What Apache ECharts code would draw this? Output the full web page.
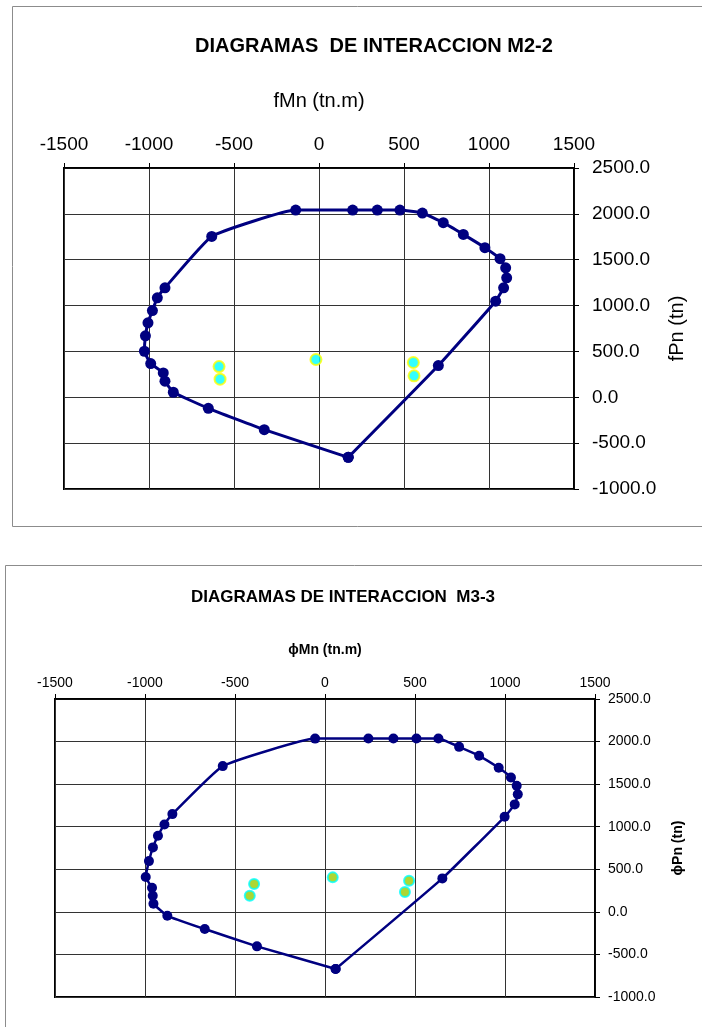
<!DOCTYPE html>
<html>
<head>
<meta charset="utf-8">
<script src="https://cdn.jsdelivr.net/npm/echarts@6/dist/echarts.min.js"></script>
<style>
  html, body { margin: 0; padding: 0; background: #fff; }
  #chart { width: 702px; height: 1027px; }
</style>
</head>
<body>
<div id="chart"></div>
<script>
// Interaction diagram M2-2: capacity curve (phiMn, phiPn) traced around the section
const m22Mn = [172, -322, -651, -857, -906, -916, -990, -1027, -1021, -1006, -980, -951, -906, -631, -137,
               198, 343, 476, 608, 731, 849, 976, 1065, 1098, 1104, 1086, 1039, 702, 172];
const m22Pn = [-655, -353, -120, 55, 175, 266, 368, 502, 670, 812, 946, 1085, 1194, 1754, 2041,
               2041, 2041, 2041, 2009, 1904, 1776, 1631, 1511, 1412, 1303, 1194, 1048, 346, -655];
// Demand points (Mu, Pu) for M2-2
const m22DemandMn = [-588, -582, -18, 555, 559];
const m22DemandPn = [335, 197, 412, 379, 234];

// Interaction diagram M3-3
const m33Mn = [59, -378, -668, -876, -953, -957, -961, -996, -978, -956, -928, -892, -848, -568, -55,
               241, 380, 508, 630, 745, 856, 965, 1033, 1065, 1071, 1054, 998, 652, 59];
const m33Pn = [-671, -405, -202, -46, 95, 189, 283, 409, 596, 757, 894, 1027, 1148, 1712, 2035,
               2037, 2037, 2037, 2037, 1938, 1833, 1692, 1579, 1481, 1380, 1262, 1117, 393, -671];
// Demand points (Mu, Pu) for M3-3
const m33DemandMn = [-394, -418, 43, 467, 444];
const m33DemandPn = [326, 189, 405, 365, 232];

// Axis ranges and steps
const momentRange = [-1500, 1500];
const momentStep = 500;
const axialRange = [-1000, 2500];
const axialStep = 500;

const zip = (a, b) => a.map((v, i) => [v, b[i]]);
const FONT = 'Liberation Sans, Arial, sans-serif';

function xAxisCfg(gridIndex, name, fontSize, nameSize, nameGap, margin, bold) {
  return {
    gridIndex, type: 'value', position: 'top',
    min: momentRange[0], max: momentRange[1], interval: momentStep,
    name, nameLocation: 'middle', nameGap,
    nameTextStyle: { color: '#000', fontSize: nameSize, fontFamily: FONT, fontWeight: bold ? 'bold' : 'normal' },
    axisLine: { show: true, onZero: false, lineStyle: { color: '#000', width: 1.5 } },
    axisTick: { show: true, length: 5, lineStyle: { color: '#000' } },
    axisLabel: { color: '#000', fontSize, fontFamily: FONT, margin, formatter: v => String(v) },
    splitLine: { show: true, lineStyle: { color: '#333', width: 1 } }
  };
}
function yAxisCfg(gridIndex, name, fontSize, nameSize, nameGap, margin, bold) {
  return {
    gridIndex, type: 'value', position: 'right',
    min: axialRange[0], max: axialRange[1], interval: axialStep,
    name, nameLocation: 'middle', nameGap, nameRotate: 90,
    nameTextStyle: { color: '#000', fontSize: nameSize, fontFamily: FONT, fontWeight: bold ? 'bold' : 'normal' },
    axisLine: { show: true, onZero: false, lineStyle: { color: '#000', width: 1.5 } },
    axisTick: { show: true, length: 5, lineStyle: { color: '#000' } },
    axisLabel: { color: '#000', fontSize, fontFamily: FONT, margin, formatter: v => v.toFixed(1) },
    splitLine: { show: true, lineStyle: { color: '#333', width: 1 } }
  };
}

const chart = echarts.init(document.getElementById('chart'), null, { renderer: 'canvas' });
chart.setOption({
  backgroundColor: '#fff',
  animation: false,
  graphic: [
    { type: 'rect', shape: { x: 12.5, y: 6.5, width: 700, height: 520 }, style: { fill: 'none', stroke: '#8c8c8c', lineWidth: 1 }, z: -10 },
    { type: 'rect', shape: { x: 5.5, y: 565.5, width: 710, height: 470 }, style: { fill: 'none', stroke: '#8c8c8c', lineWidth: 1 }, z: -10 }
  ],
  title: [
    { text: 'DIAGRAMAS  DE INTERACCION M2-2', left: 369, top: 31, textAlign: 'center',
      textStyle: { fontSize: 20, fontWeight: 'bold', color: '#000', fontFamily: FONT } },
    { text: 'DIAGRAMAS DE INTERACCION  M3-3', left: 338, top: 584, textAlign: 'center',
      textStyle: { fontSize: 17, fontWeight: 'bold', color: '#000', fontFamily: FONT } }
  ],
  grid: [
    { left: 64, top: 168, width: 510, height: 321, show: true, borderColor: '#000', borderWidth: 2, backgroundColor: 'transparent' },
    { left: 55, top: 699, width: 540, height: 298, show: true, borderColor: '#000', borderWidth: 2, backgroundColor: 'transparent' }
  ],
  xAxis: [
    xAxisCfg(0, 'fMn (tn.m)', 19, 20, 57, 14, false),
    xAxisCfg(1, 'ϕMn (tn.m)', 14, 14, 42, 9, true)
  ],
  yAxis: [
    yAxisCfg(0, 'fPn (tn)', 19, 20, 88, 18, false),
    yAxisCfg(1, 'ϕPn (tn)', 14, 14, 76, 13, true)
  ],
  series: [
    { type: 'line', xAxisIndex: 0, yAxisIndex: 0, data: zip(m22Mn, m22Pn), smooth: 0.12,
      symbol: 'circle', symbolSize: 11, lineStyle: { color: '#000080', width: 3 },
      itemStyle: { color: '#000080' }, z: 3 },
    { type: 'scatter', xAxisIndex: 0, yAxisIndex: 0, data: zip(m22DemandMn, m22DemandPn),
      symbol: 'circle', symbolSize: 11, itemStyle: { color: '#00ffff', borderColor: '#ffff00', borderWidth: 2 }, z: 4 },
    { type: 'line', xAxisIndex: 1, yAxisIndex: 1, data: zip(m33Mn, m33Pn), smooth: 0.12,
      symbol: 'circle', symbolSize: 10, lineStyle: { color: '#000080', width: 2.5 },
      itemStyle: { color: '#000080' }, z: 3 },
    { type: 'scatter', xAxisIndex: 1, yAxisIndex: 1, data: zip(m33DemandMn, m33DemandPn),
      symbol: 'circle', symbolSize: 10, itemStyle: { color: '#99cc00', borderColor: '#00ffff', borderWidth: 2 }, z: 4 }
  ]
});
</script>
</body>
</html>
